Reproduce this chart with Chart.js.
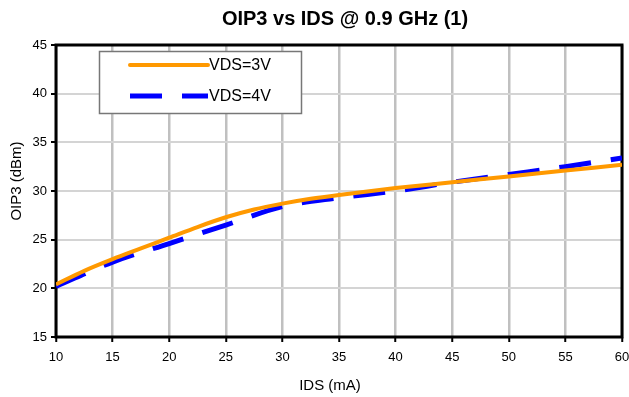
<!DOCTYPE html>
<html>
<head>
<meta charset="utf-8">
<script src="https://cdn.jsdelivr.net/npm/chart.js@4"></script>
<style>
  html, body { margin: 0; padding: 0; background: #fff; }
  #wrap { width: 629px; height: 397px; position: relative; }
</style>
</head>
<body>
<div id="wrap"><canvas id="chartOip3"></canvas></div>
<script>
// DATOS
const ids = [10, 12.5, 15, 17.5, 20, 22.5, 25, 27.5, 30, 32.5, 35, 40, 45, 50, 55, 60];
const oip3Vds3 = [20.4, 21.8, 23.0, 24.1, 25.2, 26.3, 27.3, 28.1, 28.7, 29.2, 29.6, 30.3, 30.9, 31.5, 32.1, 32.7];
const idsVds4 = [10, 15, 20, 25, 30, 35, 40, 45, 50, 55, 60];
const oip3Vds4 = [20.2, 22.7, 24.6, 26.5, 28.4, 29.3, 30.0, 30.9, 31.7, 32.5, 33.4];
const xTicks = [10, 15, 20, 25, 30, 35, 40, 45, 50, 55, 60];
const yTicks = [15, 20, 25, 30, 35, 40, 45];

const chartTitle = "OIP3 vs IDS @ 0.9 GHz (1)";
const xTitle = "IDS (mA)";
const yTitle = "OIP3 (dBm)";
const FONT = "'Liberation Sans', Arial, sans-serif";

// marco, titulos y leyenda estilo Excel
const excelDecor = {
  id: "excelDecor",
  beforeDatasetsDraw(chart) {
    const { ctx, chartArea: a } = chart;
    ctx.save();
    ctx.strokeStyle = "#000";
    ctx.lineWidth = 3;
    ctx.strokeRect(a.left, a.top, a.right - a.left, a.bottom - a.top);
    ctx.restore();
  },
  afterDraw(chart) {
    const { ctx } = chart;
    ctx.save();
    ctx.fillStyle = "#000";
    ctx.textAlign = "center";
    ctx.textBaseline = "middle";
    ctx.font = "bold 20px " + FONT;
    ctx.fillText(chartTitle, 345, 19);
    ctx.font = "15px " + FONT;
    ctx.fillText(xTitle, 330, 386);
    ctx.translate(17, 181);
    ctx.rotate(-Math.PI / 2);
    ctx.fillText(yTitle, 0, 0);
    ctx.restore();

    // leyenda
    ctx.save();
    ctx.fillStyle = "#fff";
    ctx.fillRect(99, 51, 203, 63);
    ctx.strokeStyle = "#777";
    ctx.lineWidth = 1.5;
    ctx.strokeRect(99.5, 51.5, 202, 62);
    chart.data.datasets.forEach((ds, i) => {
      const y = 65 + i * 31;
      ctx.strokeStyle = ds.borderColor;
      ctx.lineWidth = ds.borderWidth;
      ctx.lineCap = ds.borderDash ? "butt" : "round";
      ctx.setLineDash(ds.borderDash || []);
      ctx.beginPath();
      ctx.moveTo(130, y);
      ctx.lineTo(208, y);
      ctx.stroke();
      ctx.setLineDash([]);
      ctx.fillStyle = "#000";
      ctx.font = "16px " + FONT;
      ctx.textAlign = "left";
      ctx.textBaseline = "middle";
      ctx.fillText(ds.label, 209, y + 1);
    });
    ctx.restore();
  },
};

new Chart(document.getElementById("chartOip3"), {
  type: "line",
  data: {
    datasets: [
      {
        label: "VDS=3V",
        data: ids.map((x, i) => ({ x: x, y: oip3Vds3[i] })),
        borderColor: "#FF9900",
        borderWidth: 4,
        pointRadius: 0,
        cubicInterpolationMode: "monotone",
      },
      {
        label: "VDS=4V",
        data: idsVds4.map((x, i) => ({ x: x, y: oip3Vds4[i] })),
        borderColor: "#0000FF",
        borderWidth: 5,
        borderDash: [32, 20],
        pointRadius: 0,
        cubicInterpolationMode: "monotone",
      },
    ],
  },
  options: {
    responsive: true,
    maintainAspectRatio: false,
    animation: false,
    layout: { padding: { top: 45, right: 7, left: 0, bottom: 0 } },
    plugins: {
      legend: { display: false },
      title: { display: false },
      tooltip: { enabled: false },
    },
    scales: {
      x: {
        type: "linear",
        min: 10,
        max: 60,
        afterBuildTicks: (s) => { s.ticks = xTicks.map((v) => ({ value: v })); },
        afterFit: (s) => { s.height = 60; s.paddingRight = 0; s.paddingLeft = 0; },
        border: { display: false },
        grid: { color: "#c0c0c0", lineWidth: 2.5, tickColor: "#000", tickLength: 5, tickWidth: 2 },
        ticks: { color: "#000", font: { family: FONT, size: 13 }, padding: 8, maxRotation: 0 },
      },
      y: {
        min: 15,
        max: 45,
        afterBuildTicks: (s) => { s.ticks = yTicks.map((v) => ({ value: v })); },
        afterFit: (s) => { s.width = 56; s.paddingTop = 0; s.paddingBottom = 0; },
        border: { display: false },
        grid: { color: "#d4d4d4", lineWidth: 2, tickColor: "#000", tickLength: 5, tickWidth: 2 },
        ticks: { color: "#000", font: { family: FONT, size: 13 }, padding: 4 },
      },
    },
  },
  plugins: [excelDecor],
});
</script>
</body>
</html>
